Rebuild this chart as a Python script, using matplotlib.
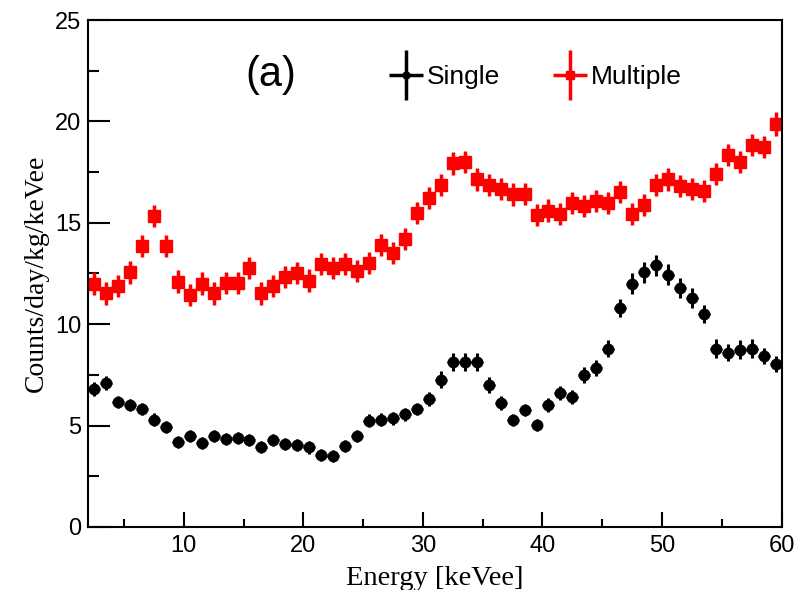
import numpy as np
import matplotlib
matplotlib.use("Agg")
import matplotlib.pyplot as plt
from matplotlib.ticker import MultipleLocator
from matplotlib.lines import Line2D

# energy bin centres [keVee]
energy = [2.5, 3.5, 4.5, 5.5, 6.5, 7.5, 8.5, 9.5, 10.5, 11.5,
          12.5, 13.5, 14.5, 15.5, 16.5, 17.5, 18.5, 19.5, 20.5, 21.5,
          22.5, 23.5, 24.5, 25.5, 26.5, 27.5, 28.5, 29.5, 30.5, 31.5,
          32.5, 33.5, 34.5, 35.5, 36.5, 37.5, 38.5, 39.5, 40.5, 41.5,
          42.5, 43.5, 44.5, 45.5, 46.5, 47.5, 48.5, 49.5, 50.5, 51.5,
          52.5, 53.5, 54.5, 55.5, 56.5, 57.5, 58.5, 59.5]
bin_half = [0.5] * len(energy)

single = [6.8, 7.1, 6.15, 6.0, 5.8, 5.3, 4.95, 4.2, 4.5, 4.15,
          4.5, 4.35, 4.4, 4.3, 3.95, 4.3, 4.1, 4.05, 3.92, 3.55,
          3.5, 4.0, 4.5, 5.25, 5.3, 5.35, 5.55, 5.8, 6.33, 7.27,
          8.15, 8.15, 8.15, 7.0, 6.13, 5.28, 5.77, 5.02, 6.0, 6.6,
          6.4, 7.5, 7.85, 8.8, 10.8, 12.0, 12.55, 12.9, 12.45, 11.8,
          11.3, 10.5, 8.8, 8.6, 8.75, 8.8, 8.45, 8.03]
single_err = [0.35, 0.35, 0.3, 0.3, 0.3, 0.3, 0.3, 0.3, 0.3, 0.3,
              0.3, 0.3, 0.3, 0.3, 0.3, 0.3, 0.3, 0.3, 0.3, 0.3,
              0.3, 0.3, 0.3, 0.3, 0.3, 0.3, 0.3, 0.3, 0.35, 0.4,
              0.45, 0.45, 0.45, 0.4, 0.35, 0.3, 0.3, 0.3, 0.35, 0.35,
              0.35, 0.4, 0.4, 0.4, 0.45, 0.5, 0.5, 0.5, 0.5, 0.5,
              0.5, 0.45, 0.45, 0.4, 0.45, 0.45, 0.4, 0.4]

multiple = [12.0, 11.52, 11.9, 12.55, 13.87, 15.34, 13.87, 12.1, 11.45, 12.0,
            11.52, 12.02, 12.02, 12.76, 11.52, 11.9, 12.34, 12.54, 12.15, 12.97,
            12.76, 12.97, 12.64, 13.03, 13.9, 13.5, 14.19, 15.5, 16.21, 16.86,
            17.93, 18.01, 17.14, 16.86, 16.65, 16.4, 16.42, 15.38, 15.6, 15.43,
            15.99, 15.83, 16.09, 15.96, 16.53, 15.43, 15.88, 16.86, 17.14, 16.81,
            16.65, 16.58, 17.4, 18.34, 18.01, 18.84, 18.75, 19.87]
multiple_err = [0.55] * 57 + [0.6]

plt.rcParams['font.family'] = ['Liberation Sans', 'DejaVu Sans']

fig = plt.figure(figsize=(7.96, 5.9), dpi=100)
ax = fig.add_axes([0.1106, 0.1068, 0.8714, 0.8593])

ax.errorbar(energy, multiple, yerr=multiple_err, xerr=bin_half,
            fmt='s', color='#ff0000', markersize=9, elinewidth=2.5, capsize=0)
ax.errorbar(energy, single, yerr=single_err, xerr=bin_half,
            fmt='o', color='black', markersize=7.5, elinewidth=2.2, capsize=0)

ax.set_xlim(2, 60)
ax.set_ylim(0, 25)
ax.xaxis.set_major_locator(MultipleLocator(10))
ax.xaxis.set_minor_locator(MultipleLocator(5))
ax.yaxis.set_major_locator(MultipleLocator(5))
ax.yaxis.set_minor_locator(MultipleLocator(2.5))

ax.tick_params(axis='both', which='both', direction='in', top=False, right=False,
               width=1.5, labelsize=17)
ax.tick_params(axis='y', which='major', length=16, pad=5)
ax.tick_params(axis='y', which='minor', length=8)
ax.tick_params(axis='x', which='major', length=11, pad=6)
ax.tick_params(axis='x', which='minor', length=6)
for s in ax.spines.values():
    s.set_linewidth(1.5)

ax.set_xlabel('Energy [keVee]', family=['Liberation Serif', 'DejaVu Serif'],
              fontsize=20.5, labelpad=6)
ax.set_ylabel('Counts/day/kg/keVee', family=['Liberation Serif', 'DejaVu Serif'],
              fontsize=20, labelpad=4)

ax.text(0.264, 0.891, '(a)', transform=ax.transAxes, fontsize=30,
        ha='center', va='center')

# legend handles: a cross (bin width x error) with a small marker
def cross(col, mk, ms):
    return (Line2D([], [], ls='none', marker='|', markersize=36, markeredgewidth=2.5, color=col),
            Line2D([], [], ls='none', marker='_', markersize=24, markeredgewidth=2.5, color=col),
            Line2D([], [], ls='none', marker=mk, markersize=ms, color=col))

ax.legend([cross('black', 'o', 5), cross('#ff0000', 's', 6)], ['Single', 'Multiple'],
          ncol=2, loc='center', bbox_to_anchor=(0.645, 0.888), frameon=False,
          fontsize=19, handlelength=1.3, handletextpad=0.15,
          columnspacing=2.0, borderpad=0, borderaxespad=0)

fig.savefig('out.png', dpi=100)
